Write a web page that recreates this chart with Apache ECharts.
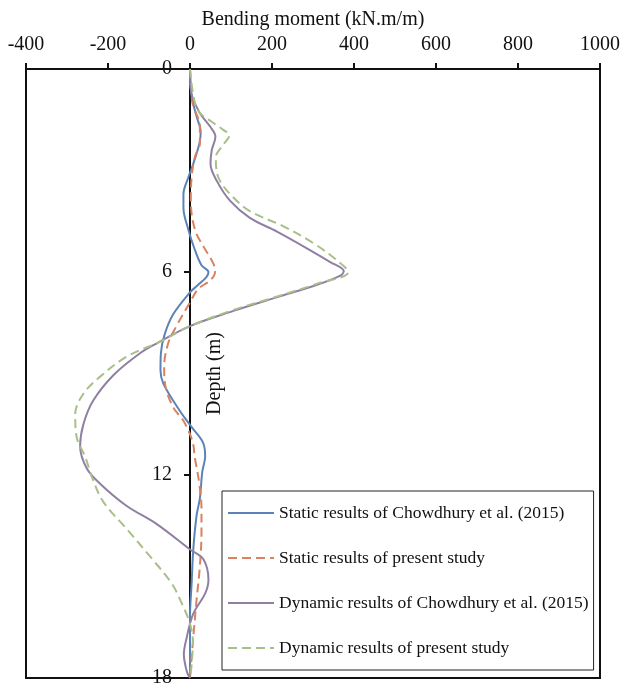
<!DOCTYPE html>
<html>
<head>
<meta charset="utf-8">
<script src="https://cdn.jsdelivr.net/npm/echarts@6/dist/echarts.min.js"></script>
<style>
  html, body { margin: 0; padding: 0; background: #fff; }
  #chart { width: 621px; height: 687px; }
</style>
</head>
<body>
<div id="chart"></div>
<script>
// Bending moment profiles along the wall depth
const xTicks = [-400, -200, 0, 200, 400, 600, 800, 1000];
const yTicks = [0, 6, 12, 18];

const seriesNames = [
  'Static results of Chowdhury et al. (2015)',
  'Static results of present study',
  'Dynamic results of Chowdhury et al. (2015)',
  'Dynamic results of present study'
];

// Static, Chowdhury et al. (2015)
const depthStaticRef = [0, 0.8, 1.4, 1.85, 2.15, 2.8, 3.2, 3.7, 4.1, 4.75, 5.35, 5.8, 6.0, 6.15, 6.4, 6.6, 7.25, 7.85, 8.4, 8.9, 9.3, 10.1, 10.6, 11.05, 11.45, 11.9, 12.7, 13.2, 14.2, 15.2, 16.2, 18];
const momentStaticRef = [0, 4, 16, 26, 24, 8, -4, -16, -16, -4, 12, 28, 45, 40, 18, 0, -41, -62, -71, -72, -65, -25, 5, 32, 37, 30, 24, 16, 8, 4, 0, 0];

// Static, present study
const depthStatic = [0, 1.0, 1.7, 2.2, 2.6, 3.2, 3.9, 4.75, 5.25, 5.75, 6.0, 6.25, 6.5, 6.9, 7.6, 8.1, 8.8, 9.3, 10.0, 10.4, 11.0, 11.5, 12.2, 13.0, 13.7, 14.7, 15.7, 16.8, 18];
const momentStatic = [0, 6, 24, 24, 12, 4, 2, 12, 33, 57, 61, 49, 20, 0, -33, -53, -63, -61, -41, -16, 6, 12, 22, 28, 28, 24, 16, 8, 0];

// Dynamic, Chowdhury et al. (2015)
const depthDynamicRef = [0, 0.7, 1.3, 1.7, 2.0, 2.4, 2.8, 3.3, 3.9, 4.4, 4.8, 5.3, 5.7, 5.97, 6.1, 6.4, 6.75, 7.15, 7.6, 8.1, 8.4, 9.05, 9.8, 10.5, 11.15, 11.8, 12.25, 12.9, 13.45, 14.2, 14.5, 15.1, 15.5, 16.1, 16.8, 17.3, 17.8, 18];
const momentDynamicRef = [0, 3, 24, 49, 62, 53, 50, 65, 98, 146, 211, 285, 341, 375, 368, 305, 211, 106, 0, -80, -122, -187, -236, -260, -268, -252, -220, -156, -81, 0, 33, 45, 37, 8, -8, -15, -8, 0];

// Dynamic, present study
const depthDynamic = [0, 0.9, 1.3, 1.56, 1.8, 1.95, 2.3, 2.6, 3.2, 3.7, 4.2, 4.65, 5.15, 5.65, 6.0, 6.35, 6.73, 7.12, 7.6, 8.06, 8.5, 9.1, 9.6, 10.2, 10.9, 11.45, 12.1, 12.8, 13.6, 14.4, 15.2, 15.85, 16.4, 16.9, 17.6, 18];
const momentDynamic = [0, 10, 24, 53, 81, 96, 77, 63, 69, 98, 146, 228, 301, 358, 386, 309, 211, 106, 0, -73, -154, -220, -260, -280, -276, -256, -238, -211, -154, -98, -45, -18, 0, 7, 4, 0];

const colors = ['#5B83B8', '#D9825F', '#8F7FA3', '#A9BF8A'];
const serif = 'Liberation Serif';

function pairs(moment, depth) {
  return moment.map((m, i) => [m, depth[i]]);
}

const profiles = [
  { data: pairs(momentStaticRef, depthStaticRef), dash: 'solid' },
  { data: pairs(momentStatic, depthStatic), dash: [9, 5] },
  { data: pairs(momentDynamicRef, depthDynamicRef), dash: 'solid' },
  { data: pairs(momentDynamic, depthDynamic), dash: [9, 5] }
];

// Plot box; the depth axis sits on the zero-moment line inside it
const gridLeft = 26, gridRight = 21;
const plotWidth = 621 - gridLeft - gridRight;
const xMin = xTicks[0], xMax = xTicks[xTicks.length - 1];
const zeroOffset = plotWidth * (0 - xMin) / (xMax - xMin);

const chart = echarts.init(document.getElementById('chart'));
chart.setOption({
  animation: false,
  backgroundColor: '#fff',
  grid: {
    left: gridLeft, right: gridRight, top: 69, bottom: 9,
    containLabel: false, outerBoundsMode: 'none',
    show: true, borderColor: '#111', borderWidth: 2, backgroundColor: 'transparent'
  },
  legend: {
    orient: 'vertical',
    left: 222, top: 491,
    data: seriesNames,
    itemWidth: 46, itemHeight: 14, itemGap: 27,
    padding: [13, 5, 13, 5],
    borderColor: '#222', borderWidth: 1,
    backgroundColor: '#fff',
    itemStyle: { opacity: 0, borderWidth: 0 },
    textStyle: { fontFamily: serif, fontSize: 17.5, color: '#111' }
  },
  xAxis: {
    type: 'value', position: 'top',
    min: xMin, max: xMax, interval: 200,
    name: 'Bending moment (kN.m/m)', nameLocation: 'middle', nameGap: 38,
    nameTextStyle: { fontFamily: serif, fontSize: 20, color: '#111' },
    axisLine: { show: true, onZero: false, lineStyle: { color: '#111', width: 2 } },
    axisTick: { show: true, inside: false, length: 6, lineStyle: { color: '#111', width: 2 } },
    axisLabel: { fontFamily: serif, fontSize: 20, color: '#111', margin: 14, formatter: v => String(v) },
    splitLine: { show: false }
  },
  yAxis: {
    type: 'value', inverse: true, position: 'left',
    offset: -zeroOffset,
    min: yTicks[0], max: yTicks[yTicks.length - 1], interval: 6,
    name: 'Depth (m)', nameLocation: 'middle', nameGap: -35, nameRotate: 90,
    nameMoveOverlap: false,
    nameTextStyle: { fontFamily: serif, fontSize: 20, color: '#111' },
    axisLine: { show: true, onZero: false, lineStyle: { color: '#111', width: 2 } },
    axisTick: { show: true, inside: false, length: 6, lineStyle: { color: '#111', width: 2 } },
    axisLabel: { fontFamily: serif, fontSize: 20, color: '#111', margin: 18, formatter: v => String(v) },
    splitLine: { show: false }
  },
  series: profiles.map((p, i) => ({
    name: seriesNames[i],
    type: 'line',
    data: p.data,
    smooth: 0.35,
    symbol: 'none',
    z: 2 + i,
    lineStyle: { color: colors[i], width: 2, type: p.dash },
    itemStyle: { color: colors[i] }
  }))
});
</script>
</body>
</html>
